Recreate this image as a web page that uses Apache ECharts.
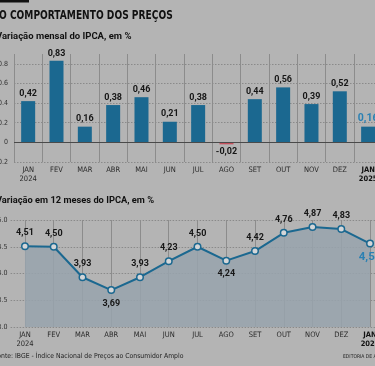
<!DOCTYPE html>
<html>
<head>
<meta charset="utf-8">
<script src="https://cdn.jsdelivr.net/npm/echarts@6/dist/echarts.min.js"></script>
<style>
html,body{margin:0;padding:0;background:#b4b4b4;}
#c{width:375px;height:366px;}
</style>
</head>
<body>
<div id="c"></div>
<script>
// ---- data ----
var categories = ['JAN\n2024','FEV','MAR','ABR','MAI','JUN','JUL','AGO','SET','OUT','NOV','DEZ','JAN\n2025'];
var monthlyValues = [0.42,0.83,0.16,0.38,0.46,0.21,0.38,-0.02,0.44,0.56,0.39,0.52,0.16];
var annualValues = [4.51,4.50,3.93,3.69,3.93,4.23,4.50,4.24,4.42,4.76,4.87,4.83,4.56];
var annualBelow = [3,7,12];
var monthlyTicks = ['-0.2','0','0.2','0.4','0.6','0.8'];
var annualTicks = ['3.0','3.5','4.0','4.5','5.0'];
var titleText = 'O COMPORTAMENTO DOS PREÇOS';
var subtitle1 = 'Variação mensal do IPCA, em %';
var subtitle2 = 'Variação em 12 meses do IPCA, em %';
var sourceText = 'Fonte: IBGE - Índice Nacional de Preços ao Consumidor Amplo';
var creditText = 'EDITORIA DE ARTE';

var BG = '#b4b4b4';
var BLUE = '#1b6890';
var LIGHTBLUE = '#2a80b3';
var RED = '#c4505c';
var NARROW = '"Liberation Sans Narrow","DejaVu Sans Condensed","Roboto",sans-serif';
var BOLDF = '"Roboto","Liberation Sans",sans-serif';
var DARK = '#161616';
var NONE = 'rgba(0,0,0,0)';

function fmtComma(v){ return v.toFixed(2).replace('.', ','); }

var chart = echarts.init(document.getElementById('c'), null, {renderer:'canvas'});

var barData = monthlyValues.map(function(v,i){
  var last = i === monthlyValues.length-1;
  return {
    value: v,
    itemStyle: {color: v < 0 ? RED : BLUE},
    label: {position: v < 0 ? 'bottom' : 'top', color: last ? LIGHTBLUE : DARK, fontSize: last ? 10.5 : 9, distance: 3}
  };
});

var lineData = annualValues.map(function(v,i){
  var below = annualBelow.indexOf(i) >= 0;
  var last = i === annualValues.length-1;
  return {
    value: v,
    label: {position: below ? 'bottom' : 'top', color: last ? LIGHTBLUE : DARK, fontSize: last ? 11.5 : 9, distance: last ? 4 : 5}
  };
});

var hGridColor = '#8a8a8a';
var vGridColor = '#8c8c8c';

function xLabel(){
  return {
    interval:0, margin:4, fontSize:7.5, color:'#2a2a2a', fontFamily:NARROW, lineHeight:9,
    formatter:function(v, i){ return i === categories.length-1 ? '{b|' + v + '}' : v; },
    rich:{b:{fontWeight:'bold', fontSize:7.5, color:'#111', fontFamily:NARROW, lineHeight:9}}
  };
}

var option = {
  backgroundColor: BG,
  animation: false,
  textStyle: {fontFamily: BOLDF},
  graphic: [
    {type:'rect', shape:{x:0,y:0,width:29,height:2.5}, style:{fill:'#111'}},
    {type:'text', x:-1, y:16, scaleX:0.88, style:{text:titleText, font:'bold 11.5px ' + NARROW, fill:'#111', verticalAlign:'middle'}},
    {type:'text', x:-4, y:37, style:{text:subtitle1, font:'bold 9.5px ' + BOLDF, fill:'#111', verticalAlign:'middle'}},
    {type:'text', x:-4, y:201, style:{text:subtitle2, font:'bold 9.3px ' + BOLDF, fill:'#111', verticalAlign:'middle'}},
    {type:'text', x:-6, y:356, style:{text:sourceText, font:'6.8px ' + NARROW, fill:'#222', verticalAlign:'middle'}},
    {type:'text', x:343, y:357, style:{text:creditText, font:'5px ' + NARROW, fill:'#222', verticalAlign:'middle'}}
  ],
  grid: [
    {left:14, width:368.3, top:54, height:108, outerBoundsMode:'none', containLabel:false},
    {left:10.6, width:373.8, top:220, height:107, outerBoundsMode:'none', containLabel:false}
  ],
  xAxis: [
    {
      type:'category', gridIndex:0, data:categories, position:'bottom',
      axisLine:{show:false, onZero:false}, axisTick:{show:false, interval:0},
      splitLine:{show:true, interval:0, lineStyle:{color:vGridColor, width:1, type:'solid'}},
      axisLabel:xLabel()
    },
    {
      type:'category', gridIndex:1, data:categories, boundaryGap:true,
      axisLine:{show:false}, axisTick:{show:false, interval:0, alignWithLabel:true},
      splitLine:{show:true, interval:0, alignWithLabel:true, lineStyle:{color:vGridColor, width:1, type:'solid'}},
      axisLabel:xLabel()
    }
  ],
  yAxis: [
    {
      type:'value', gridIndex:0, min:-0.2, max:0.9, interval:0.2,
      axisLine:{show:false}, axisTick:{show:false},
      axisLabel:{margin:6, fontSize:7, color:'#333', fontFamily:NARROW, showMaxLabel:false,
        formatter:function(v){ var s = String(Math.round(v*10)/10); return monthlyTicks.indexOf(s) >= 0 ? s : ''; }},
      splitLine:{show:true, lineStyle:{type:[1.5,1.5], color:[hGridColor,NONE,hGridColor,hGridColor,hGridColor,hGridColor,NONE]}}
    },
    {
      type:'value', gridIndex:1, min:3.0, max:5.0, interval:0.5,
      axisLine:{show:false}, axisTick:{show:false},
      axisLabel:{margin:3, fontSize:7, color:'#333', fontFamily:NARROW,
        formatter:function(v){ var s = v.toFixed(1); return annualTicks.indexOf(s) >= 0 ? s : ''; }},
      splitLine:{show:true, lineStyle:{type:[1.5,1.5], color:hGridColor}}
    }
  ],
  series: [
    {
      type:'bar', xAxisIndex:0, yAxisIndex:0, data:barData, barWidth:14,
      label:{show:true, fontWeight:'bold', fontFamily:BOLDF, formatter:function(p){ return fmtComma(p.value); }},
      markLine:{silent:true, symbol:'none', label:{show:false}, lineStyle:{type:'solid', color:'#4a4a4a', width:1.2}, data:[{yAxis:0}]},
      z:3
    },
    {
      type:'line', xAxisIndex:1, yAxisIndex:1, data:lineData,
      lineStyle:{color:BLUE, width:2},
      symbol:'circle', symbolSize:6.5,
      itemStyle:{color:'#d4d6d8', borderColor:BLUE, borderWidth:1.5},
      areaStyle:{color:'#98a3ad', opacity:0.85, origin:'start'},
      label:{show:true, fontWeight:'bold', fontFamily:BOLDF, formatter:function(p){ return fmtComma(p.value); }},
      z:3
    }
  ]
};
chart.setOption(option);
</script>
</body>
</html>
